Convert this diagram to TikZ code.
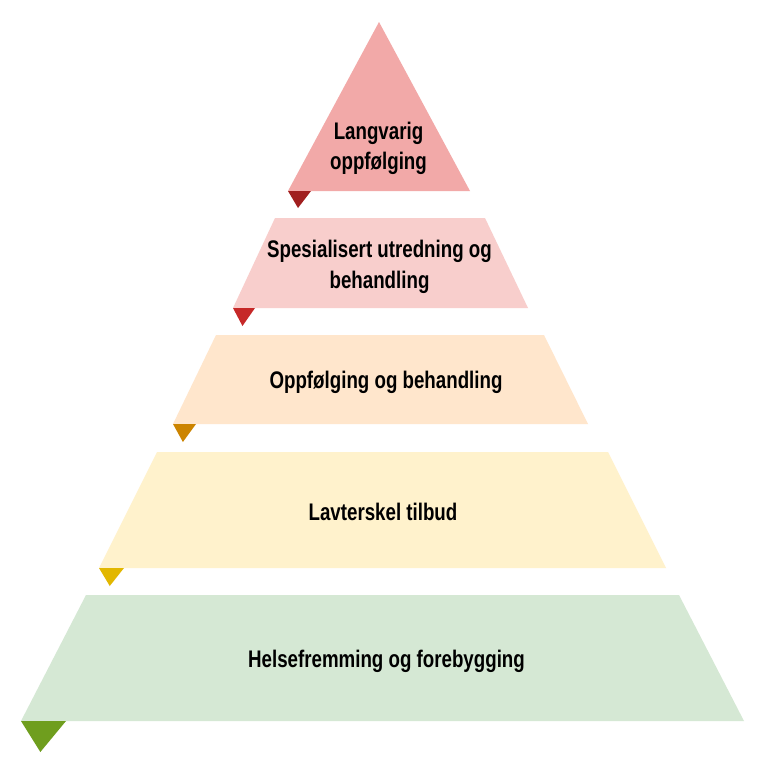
\documentclass[tikz,border=0pt]{standalone}
\usepackage{fontspec}
\newfontfamily\tierfont{Liberation Sans}[FakeStretch=0.78]
\definecolor{tierA}{HTML}{F2A9A8}
\definecolor{tierB}{HTML}{F8CECC}
\definecolor{tierC}{HTML}{FFE6CC}
\definecolor{tierD}{HTML}{FFF2CC}
\definecolor{tierE}{HTML}{D5E8D4}
\definecolor{markA}{HTML}{A11F1F}
\definecolor{markB}{HTML}{C62828}
\definecolor{markC}{HTML}{CC8400}
\definecolor{markD}{HTML}{E2B700}
\definecolor{markE}{HTML}{6F9E1E}

\begin{document}
\begin{tikzpicture}[x=1pt,y=-1pt,
    level/.style={fill=#1},
    pointer/.style={fill=#1},
    tiertext/.style={font=\tierfont\bfseries\fontsize{24}{30.5}\selectfont,inner sep=0pt,align=center,text=black}]
    \fill[white] (0,0) rectangle (768,766);
    % top of the pyramid
    \fill[level=tierA] (379,22) -- (470,191) -- (288,191) -- cycle;
    \fill[pointer=markA] (288,191) -- (311,191) -- (298,208) -- cycle;
    % the four trapezoids below
    \foreach \yt/\yb/\xa/\xb/\xc/\xd/\c in {218/308/275/485/233/528/B, 335/424/216/544/173/588/C, 452/568/157/608/99/666/D, 595/721/86/679/21/744/E} {
      \fill[level=tier\c] (\xa,\yt) -- (\xb,\yt) -- (\xd,\yb) -- (\xc,\yb) -- cycle;
    }
    \foreach \x/\y/\w/\d/\c in {233/308/22/18/B, 173/424/23/18/C, 99/568/25/18/D, 21/721/45/31/E} {
      \fill[pointer=mark\c] (\x,\y) -- ({\x+\w},\y) -- ({\x+0.43*\w},{\y+\d}) -- cycle;
    }
    \node[tiertext,anchor=north] (langvarig) at (378.5,121.5) {Langvarig\\oppfølging};
    \node[tiertext,anchor=north] (spesialisert) at (379.5,240) {Spesialisert utredning og\\behandling};
    \node[tiertext,anchor=base] (oppfolging) at (386,388) {Oppfølging og behandling};
    \node[tiertext,anchor=base] (lavterskel) at (383,520) {Lavterskel tilbud};
    \node[tiertext,anchor=base] (helse) at (386.5,667) {Helsefremming og forebygging};
\end{tikzpicture}
\end{document}
